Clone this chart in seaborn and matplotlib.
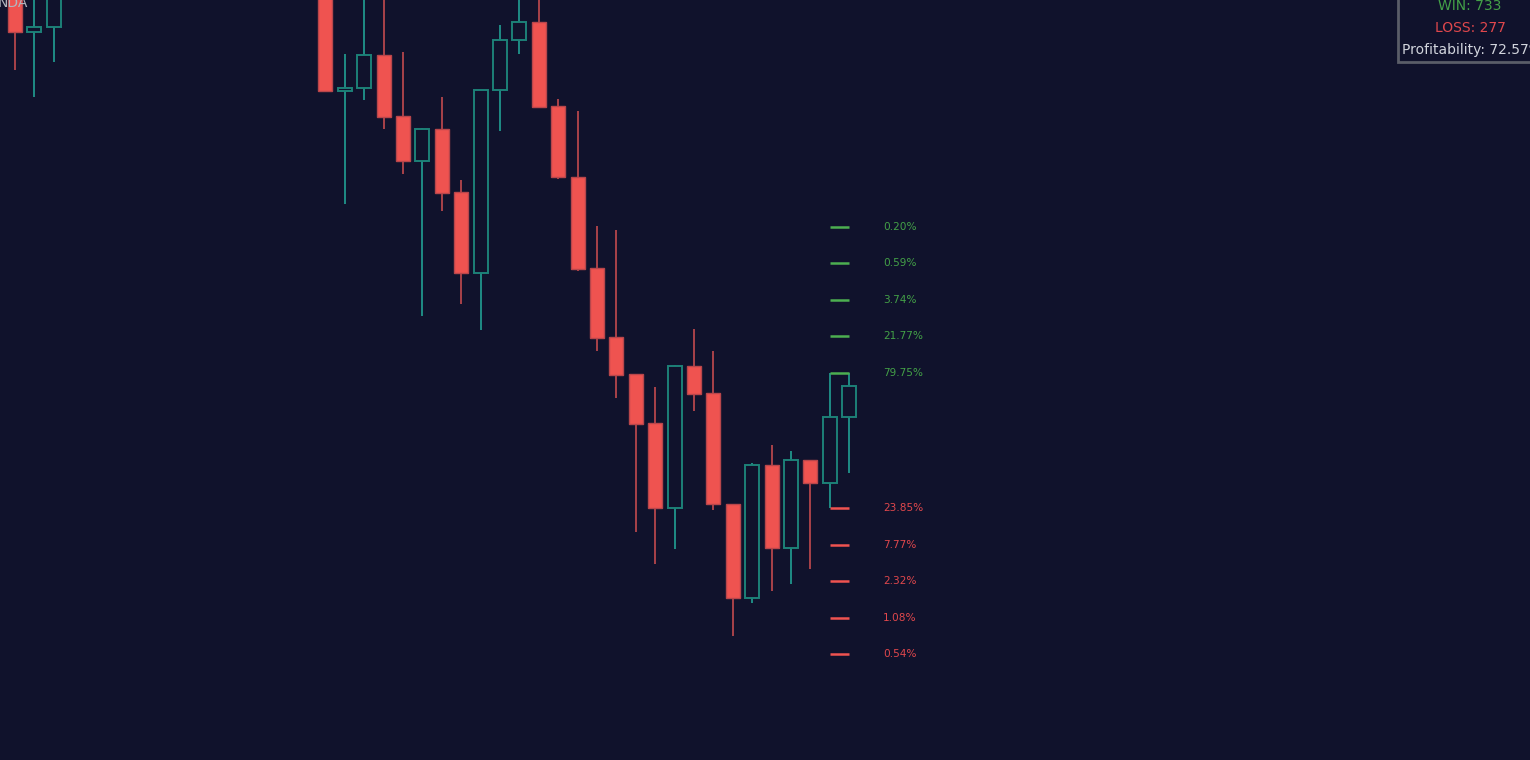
import numpy as np
import pandas as pd
import seaborn as sns
import matplotlib.pyplot as plt
from matplotlib.patches import Rectangle

# candle data (bar index, open, high, low, close) - bars 3..15 sit above the view
bar_idx = [0, 1, 2, 16, 17, 18, 19, 20, 21, 22, 23, 24, 25, 26, 27, 28, 29, 30,
           31, 32, 33, 34, 35, 36, 37, 38, 39, 40, 41, 42, 43]
opens = [770, 728, 733, 780, 669, 672, 705, 644, 599, 631, 568, 487, 670, 720, 738, 654, 583, 492,
         423, 386, 337, 252, 394, 367, 256, 162, 295, 212, 300, 277, 343]
highs = [790, 790, 790, 800, 706, 790, 790, 708, 632, 663, 580, 670, 735, 790, 790, 661, 649, 534,
         530, 386, 373, 395, 431, 409, 256, 297, 315, 309, 300, 387, 387]
lows = [690, 663, 698, 669, 556, 660, 631, 586, 444, 549, 456, 430, 629, 706, 652, 581, 489, 409,
        362, 228, 196, 211, 349, 250, 124, 157, 169, 176, 191, 252, 287]
closes = [728, 733, 770, 669, 672, 705, 643, 599, 631, 567, 487, 670, 720, 738, 653, 583, 491, 422,
          385, 336, 252, 394, 366, 256, 162, 295, 212, 300, 277, 343, 374]

# probability levels to the right of the last bars
up_levels = [533, 497, 460, 424, 387]
up_labels = ["0.20%", "0.59%", "3.74%", "21.77%", "79.75%"]
down_levels = [252, 215, 179, 142, 106]
down_labels = ["23.85%", "7.77%", "2.32%", "1.08%", "0.54%"]

win_count = 733
loss_count = 277
profitability = "72.57%"

bg = "#10122c"
red = "#ef5350"
red_wick = "#c24a4e"
teal = "#1d8178"
teal_wick = "#22a094"
green_lvl = "#4caf50"
green_txt = "#43a047"
red_txt = "#e0474c"

df = pd.DataFrame({"idx": bar_idx, "open": opens, "high": highs, "low": lows, "close": closes})
df["up"] = df["close"] >= df["open"]
df["bottom"] = df[["open", "close"]].min(axis=1)
df["height"] = (df["close"] - df["open"]).abs().clip(lower=2)

sns.set_theme(style="dark", rc={"axes.facecolor": bg, "figure.facecolor": bg})
plt.rcParams['font.family'] = ['DejaVu Sans']

fig = plt.figure(figsize=(15.3, 7.6), dpi=100)
ax = fig.add_axes([0, 0, 1, 1])
ax.set_facecolor(bg)

ups = df[df["up"]]
downs = df[~df["up"]]

# wicks
ax.vlines(downs["idx"], downs["low"], downs["high"], color=red_wick, lw=1.2, zorder=1)
ax.vlines(ups["idx"], ups["low"], ups["bottom"], color=teal_wick, lw=1.2, zorder=1)
ax.vlines(ups["idx"], ups["bottom"] + ups["height"], ups["high"], color=teal_wick, lw=1.2, zorder=1)

# bodies
ax.bar(downs["idx"], downs["height"], bottom=downs["bottom"], width=0.72,
       color=red, edgecolor="#b8464b", linewidth=1.0, zorder=2)
ax.bar(ups["idx"], ups["height"], bottom=ups["bottom"], width=0.72,
       color=bg, edgecolor=teal, linewidth=1.4, zorder=2)

# level ticks and labels
last = df["idx"].max()
for lvl, lab in zip(up_levels, up_labels):
    ax.hlines(lvl, last - 1, last, color=green_lvl, lw=1.8, zorder=3)
    ax.text(last + 1.75, lvl, lab, color=green_txt, fontsize=7.6, va="center", ha="left")
for lvl, lab in zip(down_levels, down_labels):
    ax.hlines(lvl, last - 1, last, color=red, lw=1.8, zorder=3)
    ax.text(last + 1.75, lvl, lab, color=red_txt, fontsize=7.6, va="center", ha="left")

ax.set_xlim(-0.773, 78.09)
ax.set_ylim(0, 760)
ax.axis("off")

# stats box in the top right corner
box = Rectangle((1398 / 1530, 698 / 760), 0.2, 0.2, transform=fig.transFigure,
                facecolor=bg, edgecolor="#5a5d68", linewidth=2, zorder=5)
fig.patches.append(box)
fig.text(1470 / 1530, 1 - 6 / 760, f"WIN: {win_count}", color=green_txt, fontsize=10,
         ha="center", va="center", zorder=6)
fig.text(1470 / 1530, 1 - 28 / 760, f"LOSS: {loss_count}", color=red_txt, fontsize=10,
         ha="center", va="center", zorder=6)
fig.text(1402 / 1530, 1 - 50 / 760, f"Profitability: {profitability}", color="#d1d4dc",
         fontsize=10, fontweight="medium", ha="left", va="center", zorder=6)

# clipped symbol label at the top left
fig.text(28 / 1530, 1 - 3 / 760, "NDA", color="#b2b5be", fontsize=10, ha="right", va="center")

fig.savefig("out.png", dpi=100, facecolor=bg)
